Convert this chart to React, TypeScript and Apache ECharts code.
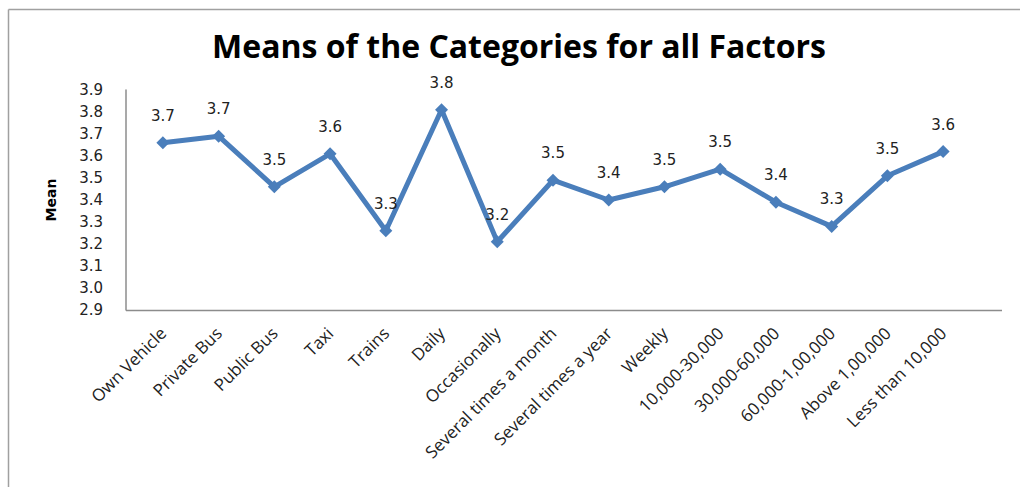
import React, { useEffect, useRef } from "react";
import * as echarts from "echarts";

const categories = [
  "Own Vehicle",
  "Private Bus",
  "Public Bus",
  "Taxi",
  "Trains",
  "Daily",
  "Occasionally",
  "Several times a month",
  "Several times a year",
  "Weekly",
  "10,000-30,000",
  "30,000-60,000",
  "60,000-1,00,000",
  "Above 1,00,000",
  "Less than 10,000",
];

const meanValues = [3.66, 3.69, 3.46, 3.61, 3.26, 3.81, 3.21, 3.49, 3.4, 3.46, 3.54, 3.39, 3.28, 3.51, 3.62];

const yTicks = { min: 2.9, max: 3.9, interval: 0.1 };

export default function App() {
  const ref = useRef<HTMLDivElement>(null);
  useEffect(() => {
    document.body.style.margin = "0";
    if (!ref.current) return;
    const chart = echarts.init(ref.current, undefined, { renderer: "svg" });
    chart.setOption({
      animation: false,
      backgroundColor: "#ffffff",
      title: {
        text: "Means of the Categories for all Factors",
        left: 514,
        top: 24,
        textAlign: "center",
        textStyle: {
          fontFamily: "Open Sans",
          fontWeight: "bold",
          fontSize: 32,
          color: "#000000",
        },
      },
      grid: { left: 135, top: 90, width: 836, height: 220, containLabel: false },
      xAxis: {
        type: "category",
        data: categories,
        boundaryGap: true,
        axisLine: { show: false },
        axisTick: { show: false },
        splitLine: { show: false },
        axisLabel: {
          rotate: 45,
          interval: 0,
          margin: 20,
          fontFamily: "Open Sans",
          fontSize: 17,
          color: "#222222",
        },
      },
      yAxis: {
        type: "value",
        min: yTicks.min,
        max: yTicks.max,
        interval: yTicks.interval,
        offset: 9,
        name: "Mean",
        nameLocation: "middle",
        nameGap: 68,
        nameRotate: 90,
        nameTextStyle: {
          fontFamily: "DejaVu Sans",
          fontWeight: "bold",
          fontSize: 14,
          color: "#000000",
        },
        axisLine: { show: true, lineStyle: { color: "#8c8c8c", width: 1.5 } },
        axisTick: { show: false },
        splitLine: { show: false },
        axisLabel: {
          margin: 23,
          fontFamily: "DejaVu Sans",
          fontSize: 15,
          color: "#222222",
          formatter: (v: number) => v.toFixed(1),
        },
      },
      graphic: [
        {
          type: "line",
          shape: { x1: 8.5, y1: 9.5, x2: 1020, y2: 9.5 },
          style: { stroke: "#a0a0a0", lineWidth: 1.5 },
        },
        {
          type: "line",
          shape: { x1: 8.5, y1: 9.5, x2: 8.5, y2: 487 },
          style: { stroke: "#a0a0a0", lineWidth: 1.5 },
        },
        {
          type: "line",
          shape: { x1: 126, y1: 310.5, x2: 1002, y2: 310.5 },
          style: { stroke: "#8c8c8c", lineWidth: 1.5 },
        },
      ],
      series: [
        {
          type: "line",
          data: meanValues,
          symbol: "diamond",
          symbolSize: 13,
          lineStyle: { color: "#4a7ebb", width: 5 },
          itemStyle: { color: "#4a7ebb" },
          label: {
            show: true,
            position: "top",
            distance: 13,
            fontFamily: "DejaVu Sans",
            fontSize: 15,
            color: "#222222",
            formatter: (p: any) => Number(p.value).toFixed(1),
          },
        },
      ],
    });
    return () => chart.dispose();
  }, []);
  return <div ref={ref} style={{ width: 1020, height: 487 }} />;
}
